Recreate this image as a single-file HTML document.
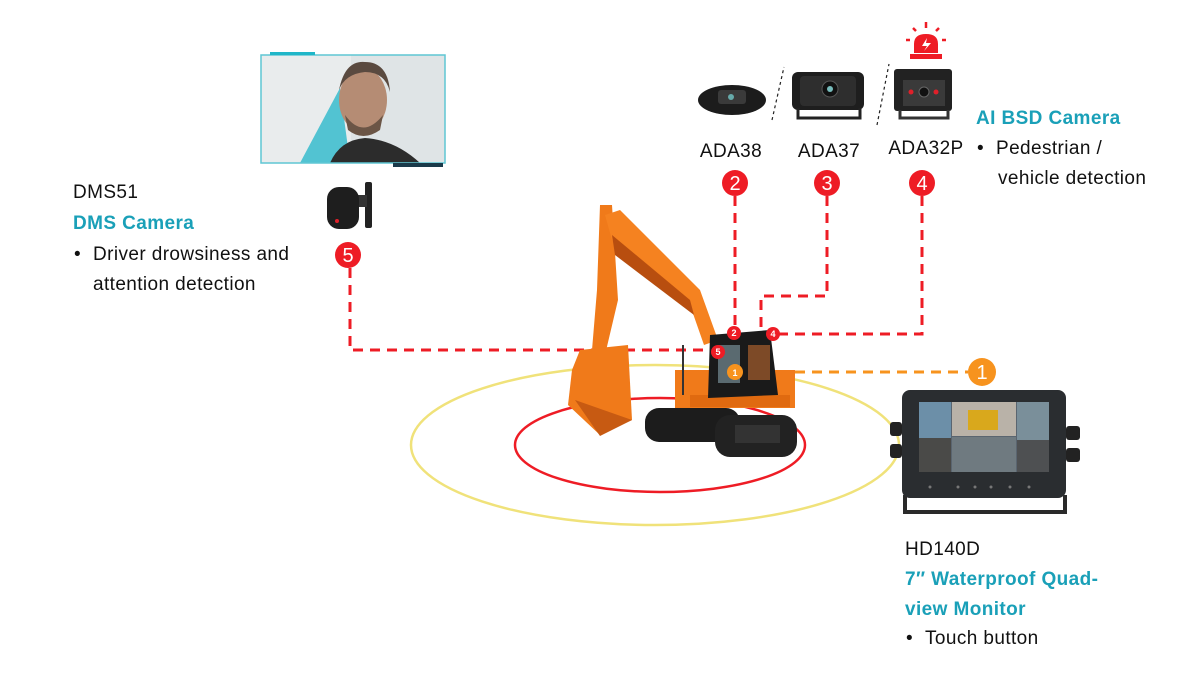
<!DOCTYPE html>
<html><head><meta charset="utf-8"><style>
html,body{margin:0;padding:0;background:#fff;}
svg{display:block;}
text{font-family:"Liberation Sans",Arial,sans-serif;}
</style></head><body>
<svg width="1200" height="700" viewBox="0 0 1200 700" xmlns="http://www.w3.org/2000/svg">
<ellipse cx="655" cy="445" rx="244" ry="80" fill="none" stroke="#f0e27a" stroke-width="2.5"/>
<ellipse cx="660" cy="445" rx="145" ry="47" fill="none" stroke="#ee1c25" stroke-width="2.5"/>

<g fill="none" stroke="#ee1c25" stroke-width="3" stroke-dasharray="10,7">
<path d="M350 268 V350 H715"/>
<path d="M735 196 V333"/>
<path d="M827 196 V296 H761 V330"/>
<path d="M922 196 V334 H775"/>
</g>
<path d="M795 372 H968" stroke="#f7931e" stroke-width="3" stroke-dasharray="10,7" fill="none"/>

<rect x="261" y="55" width="184" height="108" fill="#dfe4e6"/>
<rect x="261" y="55" width="90" height="108" fill="#e9eced"/>
<path d="M300 163 L340 88 L350 163 Z" fill="#1fb6c8" opacity="0.75"/>
<path d="M330 163 Q340 140 365 138 Q395 140 420 163 Z" fill="#2c2c2c"/>
<ellipse cx="363" cy="100" rx="24" ry="32" fill="#b58c74"/>
<path d="M339 90 Q345 60 365 62 Q388 62 390 92 Q385 72 365 72 Q345 74 339 90Z" fill="#5a4a40"/>
<path d="M345 115 Q363 140 383 115 L380 130 Q363 142 348 130Z" fill="#6b5546"/>
<rect x="261" y="55" width="184" height="108" fill="none" stroke="#5fc6d4" stroke-width="1.5"/>
<rect x="270" y="52" width="45" height="3" fill="#1fb6c8"/>
<rect x="393" y="163" width="50" height="4" fill="#1a3a4a"/>

<rect x="365" y="182" width="7" height="46" rx="2" fill="#222"/>
<rect x="355" y="195" width="12" height="12" fill="#333"/>
<rect x="327" y="187" width="32" height="42" rx="12" fill="#1e1e1e"/>
<circle cx="337" cy="221" r="2" fill="#e0202a"/>

<ellipse cx="732" cy="100" rx="34" ry="15" fill="#1c1c1c"/>
<rect x="718" y="90" width="28" height="14" rx="3" fill="#3a3a3a"/>
<circle cx="731" cy="97" r="3" fill="#6aa"/>
<path d="M772 120 L784 67" stroke="#222" stroke-dasharray="3,3" stroke-width="1.2"/>
<rect x="792" y="72" width="72" height="38" rx="6" fill="#1e1e1e"/>
<rect x="800" y="76" width="56" height="30" rx="4" fill="#2e2e2e"/>
<circle cx="830" cy="89" r="8" fill="#111" stroke="#555"/>
<circle cx="830" cy="89" r="3" fill="#7bb"/>
<path d="M798 108 V118 H860 V108" fill="none" stroke="#222" stroke-width="3"/>
<path d="M877 125 L889 64" stroke="#222" stroke-dasharray="3,3" stroke-width="1.2"/>
<rect x="894" y="69" width="58" height="42" rx="3" fill="#222"/>
<rect x="903" y="80" width="42" height="26" fill="#3a3a3a"/>
<circle cx="924" cy="92" r="5" fill="#111" stroke="#666"/>
<circle cx="911" cy="92" r="2.5" fill="#e0202a"/>
<circle cx="936" cy="92" r="2.5" fill="#e0202a"/>
<path d="M900 110 V118 H948 V110" fill="none" stroke="#333" stroke-width="3"/>
<path d="M914 53 V44 Q914 34 926 34 Q938 34 938 44 V53Z" fill="#ee1c25"/>
<rect x="910" y="54" width="32" height="5" fill="#ee1c25"/>
<path d="M927 38 L922 46 H927 L924 51 L931 43 H926Z" fill="#fff"/>
<g stroke="#ee1c25" stroke-width="2.5"><line x1="926" y1="22" x2="926" y2="28"/><line x1="913" y1="28" x2="916" y2="31"/><line x1="939" y1="28" x2="936" y2="31"/><line x1="906" y1="40" x2="910" y2="40"/><line x1="942" y1="40" x2="946" y2="40"/></g>

<!-- excavator -->
<g>
<path d="M600 205 L612 205 L618 300 L605 355 L592 350 L597 290Z" fill="#f07a1a"/>
<path d="M605 215 L620 210 L700 290 L718 340 L704 345 L690 305 L612 240Z" fill="#f58220"/>
<path d="M612 235 L690 300 L694 315 L615 255Z" fill="#b84e0f"/>
<path d="M580 350 L628 345 L632 420 L600 435 L568 405 L572 370Z" fill="#f07a1a"/>
<path d="M575 400 L632 420 L600 436Z" fill="#c75a12"/>
<rect x="675" y="370" width="120" height="38" fill="#f07a1a"/>
<rect x="690" y="395" width="100" height="12" fill="#e06a10"/>
<path d="M710 335 L770 330 L778 395 L708 398Z" fill="#1a1a1a"/>
<rect x="718" y="345" width="22" height="38" fill="#5a6a70"/>
<rect x="748" y="345" width="22" height="35" fill="#c06a30" opacity="0.6"/>
<rect x="645" y="408" width="95" height="34" rx="14" fill="#1c1c1c"/>
<rect x="715" y="415" width="82" height="42" rx="15" fill="#222"/>
<rect x="735" y="425" width="45" height="18" fill="#333"/>
<path d="M683 345 V395" stroke="#333" stroke-width="2"/>
</g>
<g font-size="9" font-weight="bold" fill="#fff" text-anchor="middle">
<circle cx="734" cy="333" r="7" fill="#ee1c25"/><text x="734" y="336">2</text>
<circle cx="773" cy="334" r="7" fill="#ee1c25"/><text x="773" y="337">4</text>
<circle cx="718" cy="352" r="7" fill="#ee1c25"/><text x="718" y="355">5</text>
<circle cx="735" cy="372" r="8" fill="#f7931e"/><text x="735" y="376">1</text>
</g>

<!-- monitor -->
<rect x="890" y="422" width="12" height="14" rx="3" fill="#222"/>
<rect x="890" y="444" width="12" height="14" rx="3" fill="#222"/>
<rect x="1066" y="426" width="14" height="14" rx="3" fill="#222"/>
<rect x="1066" y="448" width="14" height="14" rx="3" fill="#222"/>
<path d="M905 495 V512 H1065 V495" fill="none" stroke="#2a2a2a" stroke-width="4"/>
<rect x="902" y="390" width="164" height="108" rx="8" fill="#2a2d30"/>
<rect x="919" y="402" width="130" height="70" fill="#5a6570"/>
<rect x="919" y="402" width="32" height="70" fill="#6c8fa8"/>
<rect x="919" y="438" width="32" height="34" fill="#4a4a48"/>
<rect x="952" y="402" width="64" height="34" fill="#b9b2a8"/>
<rect x="968" y="410" width="30" height="20" fill="#d9a81c"/>
<rect x="952" y="437" width="64" height="35" fill="#6f7a80"/>
<rect x="1017" y="402" width="32" height="70" fill="#7a8f9a"/>
<rect x="1017" y="440" width="32" height="32" fill="#4e5052"/>
<g fill="#777"><circle cx="930" cy="487" r="1.5"/><circle cx="958" cy="487" r="1.5"/><circle cx="975" cy="487" r="1.5"/><circle cx="991" cy="487" r="1.5"/><circle cx="1010" cy="487" r="1.5"/><circle cx="1029" cy="487" r="1.5"/></g>

<g font-size="20" fill="#fff" text-anchor="middle">
<circle cx="348" cy="255" r="13" fill="#ee1c25"/><text x="348" y="262">5</text>
<circle cx="735" cy="183" r="13" fill="#ee1c25"/><text x="735" y="190">2</text>
<circle cx="827" cy="183" r="13" fill="#ee1c25"/><text x="827" y="190">3</text>
<circle cx="922" cy="183" r="13" fill="#ee1c25"/><text x="922" y="190">4</text>
<circle cx="982" cy="372" r="14" fill="#f7931e"/><text x="982" y="379">1</text>
</g>

<g font-size="19" fill="#111" letter-spacing="0.4">
<text x="731" y="157" text-anchor="middle">ADA38</text>
<text x="829" y="157" text-anchor="middle">ADA37</text>
<text x="926" y="154" text-anchor="middle">ADA32P</text>
<text x="73" y="198">DMS51</text>
<text x="73" y="229" fill="#1aa0b8" font-weight="bold">DMS Camera</text>
<text x="74" y="260">•</text><text x="93" y="260">Driver drowsiness and</text>
<text x="93" y="290">attention detection</text>
<text x="976" y="124" fill="#1aa0b8" font-weight="bold">AI BSD Camera</text>
<text x="977" y="154">•</text><text x="996" y="154">Pedestrian /</text>
<text x="998" y="184">vehicle detection</text>
<text x="905" y="555">HD140D</text>
<text x="905" y="585" fill="#1aa0b8" font-weight="bold">7″ Waterproof Quad-</text>
<text x="905" y="615" fill="#1aa0b8" font-weight="bold">view Monitor</text>
<text x="906" y="644">•</text><text x="925" y="644">Touch button</text>
</g>
</svg>
</body></html>
